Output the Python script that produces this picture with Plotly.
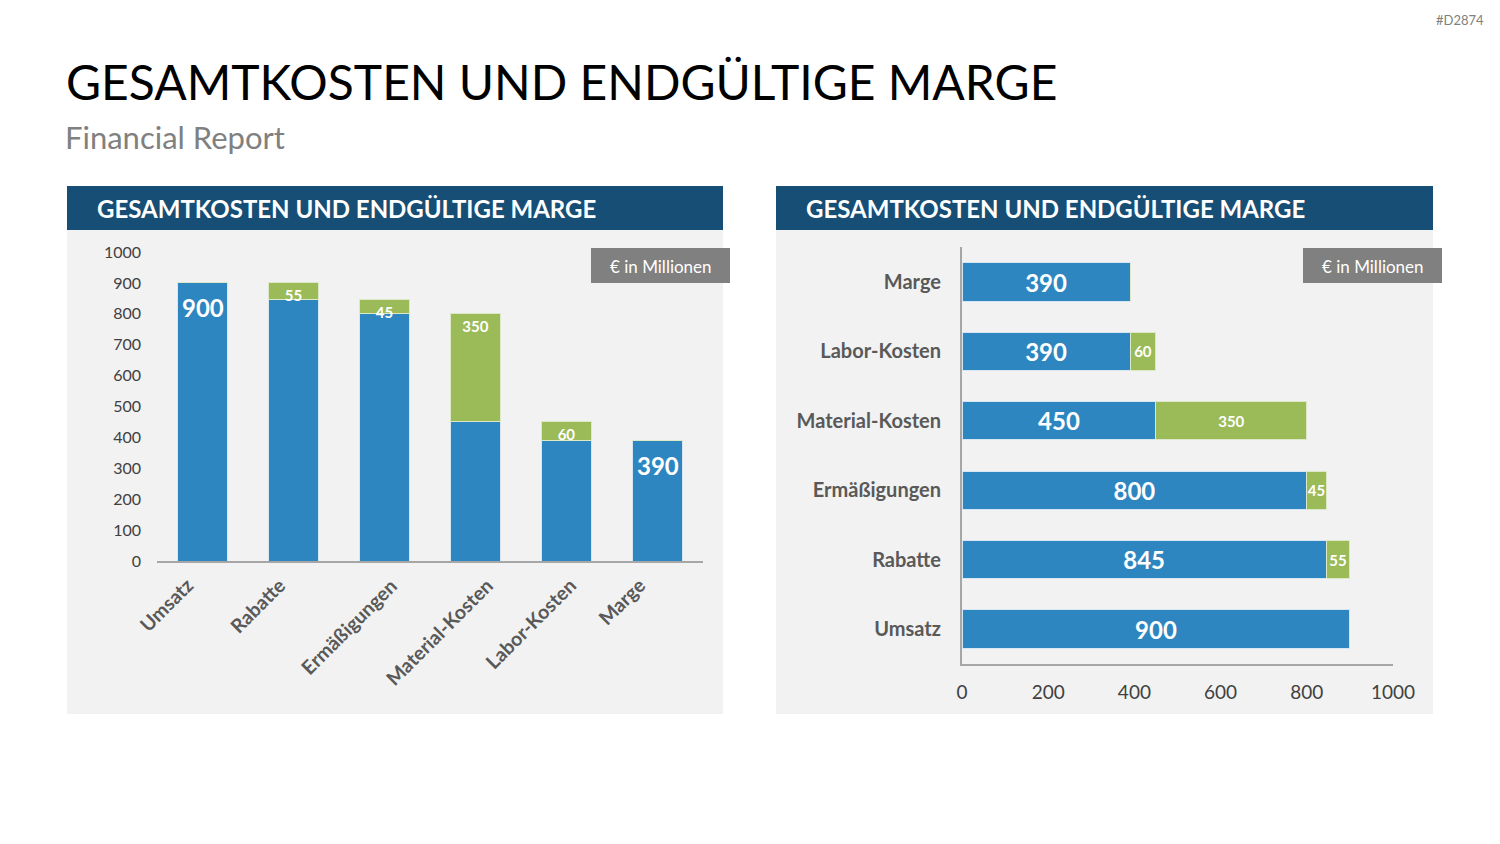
import plotly.graph_objects as go

W, H = 1500, 844

# ---------------- data ----------------
categories = ["Umsatz", "Rabatte", "Ermäßigungen", "Material-Kosten", "Labor-Kosten", "Marge"]
base_values = [900, 845, 800, 450, 390, 390]      # blue part
delta_values = [0, 55, 45, 350, 60, 0]            # green part
y_ticks = [0, 100, 200, 300, 400, 500, 600, 700, 800, 900, 1000]
x_ticks_h = [0, 200, 400, 600, 800, 1000]

main_title = "GESAMTKOSTEN UND ENDGÜLTIGE MARGE"
subtitle = "Financial Report"
panel_title = "GESAMTKOSTEN UND ENDGÜLTIGE MARGE"
unit_label = "€ in Millionen"
code_label = "#D2874"

# ---------------- styles ----------------
FONT = "Lato"
BLUE = "#2E86C1"
GREEN = "#9BBB59"
HEADER = "#174E75"
PANEL = "#F2F2F2"
AXIS = "#A6A6A6"
TICK = "#404040"
CAT = "#595959"


def px(x):
    return x / W


def py(y):
    return 1 - y / H


green_text = [str(v) if v else "" for v in delta_values]
blue_text_right = [str(v) for v in base_values]

fig = go.Figure()

# left: vertical stacked bars
fig.add_trace(go.Bar(
    x=categories, y=base_values, marker=dict(color=BLUE, line=dict(color="#D6E6F2", width=1)),
    xaxis="x", yaxis="y", showlegend=False, hoverinfo="skip"))
fig.add_trace(go.Bar(
    x=categories, y=delta_values, marker=dict(color=GREEN, line=dict(color="#DCE8C8", width=1)),
    text=green_text, textposition="inside", insidetextanchor="end", textangle=0,
    constraintext="none", textfont=dict(family=FONT, size=15, color="white", weight="bold"),
    xaxis="x", yaxis="y", showlegend=False, hoverinfo="skip"))

# right: horizontal stacked bars
fig.add_trace(go.Bar(
    y=categories, x=base_values, orientation="h",
    marker=dict(color=BLUE, line=dict(color="#D6E6F2", width=1)),
    text=blue_text_right, textposition="inside", insidetextanchor="middle", textangle=0,
    constraintext="none", textfont=dict(family=FONT, size=24, color="white", weight="bold"),
    xaxis="x2", yaxis="y2", showlegend=False, hoverinfo="skip"))
fig.add_trace(go.Bar(
    y=categories, x=delta_values, orientation="h",
    marker=dict(color=GREEN, line=dict(color="#DCE8C8", width=1)),
    text=green_text, textposition="inside", insidetextanchor="middle", textangle=0,
    constraintext="none", textfont=dict(family=FONT, size=15, color="white", weight="bold"),
    xaxis="x2", yaxis="y2", showlegend=False, hoverinfo="skip"))

shapes = []
annotations = []

# value labels on the first and last blue bars of the left chart
for i in (0, len(categories) - 1):
    annotations.append(dict(text=str(base_values[i]), xref="x", yref="y", x=categories[i], y=base_values[i],
                            yanchor="middle", yshift=-25, showarrow=False,
                            font=dict(family=FONT, size=24, color="white", weight="bold")))

# rotated category labels of the left chart (Excel-like placement)
for c in categories:
    annotations.append(dict(text=c, xref="x", yref="y", x=c, y=0, xanchor="center", yanchor="top",
                            xshift=-36, yshift=-10, textangle=-45, showarrow=False,
                            font=dict(family=FONT, size=19.5, color=CAT, weight="bold")))

# panels
for x0, x1 in [(67, 723), (776, 1433)]:
    shapes.append(dict(type="rect", xref="paper", yref="paper", x0=px(x0), x1=px(x1),
                       y0=py(714), y1=py(186), fillcolor=PANEL, line=dict(width=0), layer="below"))
    shapes.append(dict(type="rect", xref="paper", yref="paper", x0=px(x0), x1=px(x1),
                       y0=py(230), y1=py(186), fillcolor=HEADER, line=dict(width=0), layer="below"))
    annotations.append(dict(text=panel_title, xref="paper", yref="paper", x=px(x0 + 28), y=py(208),
                            xanchor="left", yanchor="middle", showarrow=False,
                            font=dict(family=FONT, size=24, color="white", weight="bold")))

# unit boxes
for x0, x1 in [(591, 730), (1303, 1442)]:
    shapes.append(dict(type="rect", xref="paper", yref="paper", x0=px(x0), x1=px(x1),
                       y0=py(283), y1=py(248), fillcolor="#808080", line=dict(width=0), layer="above"))
    annotations.append(dict(text=unit_label, xref="paper", yref="paper", x=px((x0 + x1) / 2), y=py(266),
                            xanchor="center", yanchor="middle", showarrow=False,
                            font=dict(family=FONT, size=17, color="white")))

annotations += [
    dict(text=main_title, xref="paper", yref="paper", x=px(64), y=py(81), xanchor="left", yanchor="middle",
         showarrow=False, font=dict(family=FONT, size=48, color="#000000")),
    dict(text=subtitle, xref="paper", yref="paper", x=px(63), y=py(137), xanchor="left", yanchor="middle",
         showarrow=False, font=dict(family=FONT, size=31, color="#808080")),
    dict(text=code_label, xref="paper", yref="paper", x=px(1486), y=py(20), xanchor="right", yanchor="middle",
         showarrow=False, font=dict(family=FONT, size=13, color="#808080")),
]

fig.update_layout(
    width=W, height=H, margin=dict(l=0, r=0, t=0, b=0, autoexpand=False),
    paper_bgcolor="white", plot_bgcolor="rgba(0,0,0,0)",
    barmode="stack", bargap=0.45,
    font=dict(family=FONT, color=TICK),
    shapes=shapes, annotations=annotations,
    xaxis=dict(domain=[px(157), px(703)], range=[-0.5, len(categories) - 0.5], showline=True,
               linecolor=AXIS, linewidth=2, showticklabels=False, ticks="", automargin=False,
               fixedrange=True),
    yaxis=dict(domain=[py(561), py(252)], range=[0, 1000], tickvals=y_ticks, showgrid=False,
               zeroline=False, showline=False, ticks="", ticklabelstandoff=15, automargin=False,
               tickfont=dict(family=FONT, size=16, color=TICK), fixedrange=True),
    xaxis2=dict(domain=[px(962), px(1393)], range=[0, 1000], tickvals=x_ticks_h, showgrid=False,
                zeroline=False, showline=True, linecolor=AXIS, linewidth=2, ticks="",
                ticklabelstandoff=10, anchor="y2", automargin=False,
                tickfont=dict(family=FONT, size=19, color=TICK), fixedrange=True),
    yaxis2=dict(domain=[py(663.7), py(247.3)], showline=True, linecolor=AXIS, linewidth=2, ticks="",
                ticklabelstandoff=15, anchor="x2", automargin=False,
                tickfont=dict(family=FONT, size=20, color=CAT, weight="bold"), fixedrange=True),
)

fig.write_html("out.html")
